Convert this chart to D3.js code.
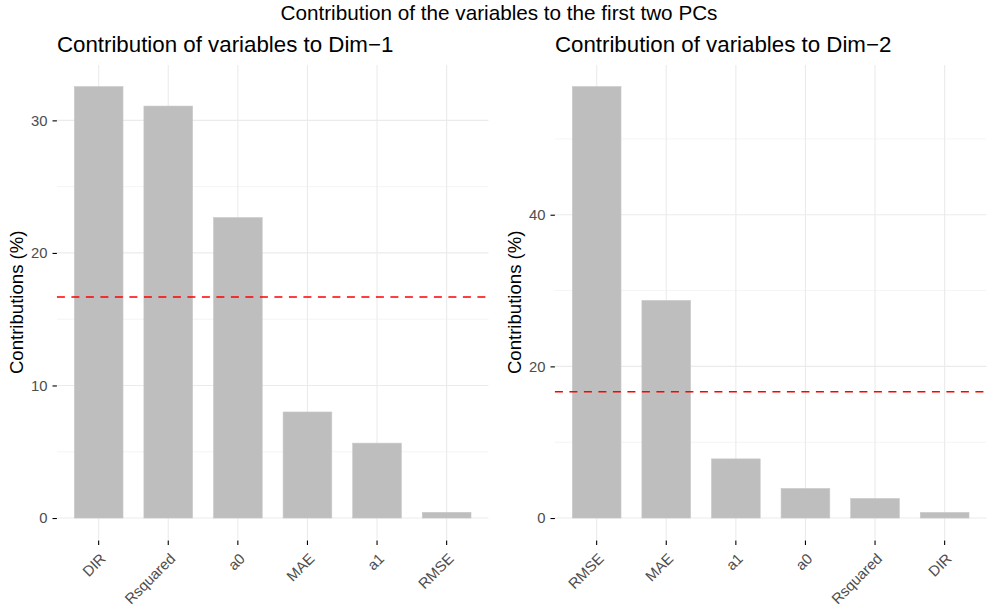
<!DOCTYPE html>
<html>
<head>
<meta charset="utf-8">
<script src="https://cdn.jsdelivr.net/npm/d3@7"></script>
<style>
  body { margin: 0; background: #fff; }
  svg { display: block; font-family: "Liberation Sans", Arial, Helvetica, sans-serif; }
</style>
</head>
<body>
<svg id="chart" width="996" height="614"></svg>
<script>
const mainTitle = "Contribution of the variables to the first two PCs";

const dim1Title = "Contribution of variables to Dim\u22121";
const dim1Categories = ["DIR", "Rsquared", "a0", "MAE", "a1", "RMSE"];
const dim1Values = [32.55, 31.08, 22.67, 8.0, 5.65, 0.43];
const dim1Ticks = [0, 10, 20, 30];
const dim1Minor = [5, 15, 25];

const dim2Title = "Contribution of variables to Dim\u22122";
const dim2Categories = ["RMSE", "MAE", "a1", "a0", "Rsquared", "DIR"];
const dim2Values = [56.9, 28.7, 7.8, 3.9, 2.58, 0.74];
const dim2Ticks = [0, 20, 40];
const dim2Minor = [10, 30, 50];

const expectedLine = 100 / 6;
const yTitle = "Contributions (%)";

const FONT = "'Liberation Sans', Arial, Helvetica, sans-serif";
const svg = d3.select("#chart");

svg.append("text")
  .attr("x", 499).attr("y", 20)
  .attr("text-anchor", "middle")
  .attr("font-size", 20.7)
  .attr("fill", "#000")
  .text(mainTitle);

function panel(cfg) {
  const g = svg.append("g");
  const top = 65, bottom = 539.6;
  const x = d3.scaleBand()
    .domain(cfg.categories)
    .range([cfg.left, cfg.right])
    .paddingInner(0.3)
    .paddingOuter(0.25);
  const maxV = d3.max(cfg.values);
  const y = d3.scaleLinear()
    .domain([-0.05 * maxV, maxV * 1.05])
    .range([bottom, top]);

  // minor grid
  g.selectAll(".minor").data(cfg.minor).enter().append("line")
    .attr("x1", cfg.left).attr("x2", cfg.right)
    .attr("y1", d => y(d)).attr("y2", d => y(d))
    .attr("stroke", "#ebebeb").attr("stroke-width", 0.55);
  // major grid
  g.selectAll(".major").data(cfg.ticks).enter().append("line")
    .attr("x1", cfg.left).attr("x2", cfg.right)
    .attr("y1", d => y(d)).attr("y2", d => y(d))
    .attr("stroke", "#ebebeb").attr("stroke-width", 1.1);
  g.selectAll(".vgrid").data(cfg.categories).enter().append("line")
    .attr("x1", d => x(d) + x.bandwidth() / 2).attr("x2", d => x(d) + x.bandwidth() / 2)
    .attr("y1", top).attr("y2", bottom)
    .attr("stroke", "#ebebeb").attr("stroke-width", 1.1);

  // bars
  g.selectAll(".bar").data(cfg.values).enter().append("rect")
    .attr("x", (d, i) => x(cfg.categories[i]))
    .attr("width", x.bandwidth())
    .attr("y", d => y(d))
    .attr("height", d => y(0) - y(d))
    .attr("fill", "#bebebe")
    .attr("stroke", "#c8c8c8")
    .attr("stroke-width", 0.6);

  // expected line
  g.append("line")
    .attr("x1", cfg.left).attr("x2", cfg.right)
    .attr("y1", y(expectedLine)).attr("y2", y(expectedLine))
    .attr("stroke", "#ff0000").attr("stroke-width", 1.5)
    .attr("stroke-dasharray", "8,6.5");

  // y axis
  const yAxis = d3.axisLeft(y).tickValues(cfg.ticks).tickSize(4.4).tickPadding(5);
  const ya = g.append("g").attr("transform", `translate(${cfg.left},0)`).call(yAxis);
  ya.select(".domain").remove();
  ya.selectAll(".tick line").attr("stroke", "#000").attr("stroke-width", 1.1);
  ya.selectAll(".tick text").attr("fill", "#4d4d4d").attr("font-size", 14.8)
    .attr("font-family", FONT);

  // x axis
  const xAxis = d3.axisBottom(x).tickSize(4.4).tickPadding(3);
  const xa = g.append("g").attr("transform", `translate(0,${bottom + 1})`).call(xAxis);
  xa.select(".domain").remove();
  xa.selectAll(".tick line").attr("stroke", "#000").attr("stroke-width", 1.1);
  xa.selectAll(".tick text")
    .attr("fill", "#4d4d4d").attr("font-size", 14.8)
    .attr("font-family", FONT)
    .attr("text-anchor", "end")
    .attr("dy", null)
    .attr("y", 0)
    .attr("transform", "translate(8,19) rotate(-45)");

  // y title
  g.append("text")
    .attr("transform", `translate(${cfg.left - 34},${(top + bottom) / 2}) rotate(-90)`)
    .attr("text-anchor", "middle")
    .attr("font-size", 18.6)
    .attr("fill", "#000")
    .text(yTitle);

  // panel title
  g.append("text")
    .attr("x", cfg.left).attr("y", 52)
    .attr("font-size", 22.3)
    .attr("fill", "#000")
    .text(cfg.title);
}

panel({ left: 56.9, right: 488.4, categories: dim1Categories, values: dim1Values,
        ticks: dim1Ticks, minor: dim1Minor, title: dim1Title });
panel({ left: 554.9, right: 986.4, categories: dim2Categories, values: dim2Values,
        ticks: dim2Ticks, minor: dim2Minor, title: dim2Title });
</script>
</body>
</html>
